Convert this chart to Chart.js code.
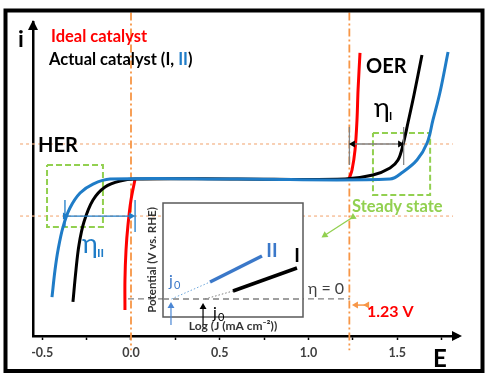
<!DOCTYPE html>
<html>
<head>
<meta charset="utf-8">
<script src="https://cdn.jsdelivr.net/npm/chart.js@4.4.0/dist/chart.umd.min.js"></script>
<style>
  html, body { margin: 0; padding: 0; background: #fff; }
  #wrap { position: relative; width: 498px; height: 389px; }
  #main { position: absolute; left: 0; top: 0; width: 498px; height: 389px; }
  #inset { position: absolute; left: 140px; top: 198px; width: 170px; height: 135px; }
</style>
</head>
<body>
<div id="wrap">
  <canvas id="main" width="498" height="389"></canvas>
  <canvas id="inset" width="170" height="135"></canvas>
</div>
<script>
// E axis (V vs RHE) and current axis (arbitrary, 0 = flat region)
const eTicks = [-0.5, -0.25, 0, 0.25, 0.5, 0.75, 1, 1.25, 1.5, 1.75];
const eRange = [-0.552, 1.842];
const iRange = [-10, 10];

// polarisation curves, pairs of [E, i]
const idealHER = [[-0.034,-8.34],[-0.034,-6.43],[-0.028,-4.52],[-0.017,-2.93],[0,-1.34],[0.023,0]];
const idealOER = [[1.228,0],[1.245,0.57],[1.262,1.85],[1.273,3.76],[1.279,5.67],[1.29,8.03]];
const catI = [[-0.327,-7.83],[-0.31,-5.8],[-0.293,-4.2],[-0.265,-2.74],[-0.214,-1.34],[-0.146,-0.51],
  [-0.062,-0.13],[0.023,0],[0.6,0],[1.206,0],[1.363,0.25],[1.459,0.7],[1.504,1.21],[1.532,2.17],
  [1.561,3.63],[1.594,5.35],[1.639,7.9]];
const catII = [[-0.445,-7.52],[-0.428,-5.8],[-0.411,-4.52],[-0.383,-3.06],[-0.344,-1.85],[-0.287,-0.89],
  [-0.214,-0.32],[-0.118,0],[0.6,0],[1.459,0],[1.532,0.45],[1.611,1.21],[1.668,2.29],[1.701,3.76],
  [1.741,5.54],[1.786,8.09]];

// guide lines
const eqPotentials = [0, 1.23];
const guideCurrents = [2.23, -2.36];
const etaZero = -7.64;
// steady state boxes [E1, E2, i1, i2]
const herBox = [-0.473, -0.158, 0.89, -3.06];
const oerBox = [1.363, 1.685, 2.93, -1.02];
// overpotential markers
const etaI = { from: 1.23, to: 1.536, at: 2.23 };
const etaII = { from: -0.372, to: 0.023, at: -2.36 };

// Tafel inset (log J vs potential, arbitrary 0-10)
const tafelII = [[3.36,3.07],[7.07,5.35]];
const tafelI = [[5,2.28],[9.57,4.3]];
const j0II = 0.6, j0I = 3.0;
const insetEtaZero = 1.58;

const pts = a => a.map(p => ({ x: p[0], y: p[1] }));
const FONT = 'Lato, "Open Sans", Arial, sans-serif';
const BLUE = '#1f7cc7';
const ORANGE = '#f79646';
const GREEN = '#92d050';

function line(data, color, width, extra) {
  return Object.assign({ data: pts(data), borderColor: color, backgroundColor: color,
    borderWidth: width, pointRadius: 0, fill: false, tension: 0, clip: false }, extra || {});
}
function boxPts(b) {
  return [[b[0],b[2]],[b[1],b[2]],[b[1],b[3]],[b[0],b[3]],[b[0],b[2]]];
}
function arrowHead(rot, r) {
  return { pointStyle: 'triangle', pointRadius: r, pointRotation: rot, pointBorderWidth: 0 };
}

const datasets = [
  // guides (back)
  line([[eqPotentials[0], 10.6],[eqPotentials[0], -10.9]], ORANGE, 1.8, { borderDash: [8,3,2,3], order: 20 }),
  line([[eqPotentials[1], 10.6],[eqPotentials[1], -10.9]], ORANGE, 1.8, { borderDash: [8,3,2,3], order: 20 }),
  line([[-0.625, guideCurrents[0]],[1.814, guideCurrents[0]]], '#f4b183', 1.2, { borderDash: [3,3], order: 20 }),
  line([[-0.625, guideCurrents[1]],[1.814, guideCurrents[1]]], '#f4b183', 1.2, { borderDash: [3,3], order: 20 }),
  line([[-0.017, etaZero],[1.234, etaZero]], '#808080', 1.3, { borderDash: [6,4], order: 19 }),
  line(boxPts(herBox), GREEN, 2, { borderDash: [6,3], order: 18 }),
  line(boxPts(oerBox), GREEN, 2, { borderDash: [6,3], order: 18 }),
  // curves
  line(idealHER, '#ff0000', 3, { tension: 0.35, order: 6 }),
  line(idealOER, '#ff0000', 3, { tension: 0.35, order: 6 }),
  line(catI, '#000000', 3, { tension: 0.35, order: 5 }),
  line(catII, BLUE, 3, { tension: 0.35, order: 4 }),
  // overpotential eta I
  line([[etaI.from, 3.31],[etaI.from, 0.89]], '#808080', 1.2, { order: 2 }),
  line([[etaI.to, 3.31],[etaI.to, 0.89]], '#808080', 1.2, { order: 2 }),
  line([[etaI.from + 0.02, etaI.at],[etaI.to - 0.02, etaI.at]], '#808080', 1.3,
    Object.assign({ order: 1, pointBackgroundColor: '#000' }, arrowHead([270, 90], 4))),
  // overpotential eta II
  line([[etaII.from, -1.34],[etaII.from, -3.06]], BLUE, 1.3, { order: 2 }),
  line([[etaII.to, -1.34],[etaII.to, -3.38]], BLUE, 1.3, { order: 2 }),
  line([[etaII.from, etaII.at],[etaII.to - 0.022, etaII.at]], BLUE, 1.3,
    Object.assign({ order: 1, pointRadius: [0, 4] }, arrowHead(90, 4))),
  // steady state pointer
  line([[1.251,-2.42],[1.092,-3.58]], GREEN, 1.3,
    Object.assign({ order: 1, pointRadius: [0, 4] }, arrowHead(-123, 4))),
  // 1.23 V pointer
  line([[1.33,-8.03],[1.267,-8.03]], ORANGE, 1.5,
    Object.assign({ order: 1, pointRadius: [0, 4] }, arrowHead(270, 4)))
];

function txt(ctx, s, x, y, font, color, align) {
  ctx.font = font;
  ctx.fillStyle = color;
  ctx.textAlign = align || 'left';
  ctx.textBaseline = 'middle';
  ctx.fillText(s, x, y);
}

const decorations = {
  id: 'decorations',
  afterDraw(chart) {
    const ctx = chart.ctx;
    const a = chart.chartArea;
    ctx.save();
    // outer frame
    ctx.strokeStyle = '#000';
    ctx.lineWidth = 4;
    ctx.strokeRect(5.5, 10.5, 477, 360.5);
    // axis arrow heads
    ctx.fillStyle = '#000';
    ctx.beginPath();
    ctx.moveTo(a.left, a.top - 2); ctx.lineTo(a.left - 5, a.top + 8); ctx.lineTo(a.left + 5, a.top + 8);
    ctx.closePath(); ctx.fill();
    ctx.beginPath();
    ctx.moveTo(a.right + 4, a.bottom); ctx.lineTo(a.right - 6, a.bottom - 5); ctx.lineTo(a.right - 6, a.bottom + 5);
    ctx.closePath(); ctx.fill();

    txt(ctx, 'i', 21, 40, 'bold 23px ' + FONT, '#000', 'center');
    txt(ctx, 'E', 440, 359, 'bold 24px ' + FONT, '#000', 'center');
    txt(ctx, 'Ideal catalyst', 51, 37, 'bold 16.5px ' + FONT, '#ff0000');
    ctx.font = 'bold 16.5px ' + FONT;
    const w1 = ctx.measureText('Actual catalyst (I, ').width;
    const w2 = ctx.measureText('II').width;
    txt(ctx, 'Actual catalyst (I, ', 49, 60, 'bold 16.5px ' + FONT, '#000');
    txt(ctx, 'II', 49 + w1, 60, 'bold 16.5px ' + FONT, BLUE);
    txt(ctx, ')', 49 + w1 + w2, 60, 'bold 16.5px ' + FONT, '#000');
    txt(ctx, 'HER', 38, 146, 'bold 20px ' + FONT, '#000');
    txt(ctx, 'OER', 366, 67, 'bold 20px ' + FONT, '#000');
    txt(ctx, 'η', 374, 108, '27px ' + FONT, '#000');
    txt(ctx, 'I', 389, 116, 'bold 11px ' + FONT, '#000');
    txt(ctx, 'η', 82, 244, '27px ' + FONT, BLUE);
    txt(ctx, 'II', 97, 253, 'bold 12px ' + FONT, BLUE);
    txt(ctx, 'Steady state', 352, 207, 'bold 16.5px ' + FONT, GREEN);
    txt(ctx, 'η = 0', 308, 289, '16px ' + FONT, '#404040');
    txt(ctx, '1.23 V', 367, 312, 'bold 16px ' + FONT, '#ff0000');
    ctx.restore();
  }
};

new Chart(document.getElementById('main'), {
  type: 'line',
  data: { datasets: datasets },
  options: {
    responsive: false,
    animation: false,
    events: [],
    layout: { padding: { left: 33, top: 22, right: 40, bottom: 0 } },
    plugins: { legend: { display: false }, tooltip: { enabled: false } },
    scales: {
      x: {
        type: 'linear', min: eRange[0], max: eRange[1],
        afterBuildTicks: s => { s.ticks = eTicks.map(v => ({ value: v })); },
        afterFit: s => { s.height = 53; },
        grid: { drawOnChartArea: false, drawTicks: true, tickLength: 4, tickWidth: 1.5, tickColor: '#000' },
        border: { color: '#000', width: 2.5 },
        ticks: {
          autoSkip: false, maxRotation: 0, padding: 5, color: '#404040',
          font: { family: FONT, size: 12.5, weight: 'bold' },
          callback: v => Math.abs(v * 2 - Math.round(v * 2)) < 1e-6 ? v.toFixed(1) : ''
        }
      },
      y: {
        type: 'linear', min: iRange[0], max: iRange[1],
        afterFit: s => { s.width = 0; },
        grid: { drawOnChartArea: false, drawTicks: false },
        border: { color: '#000', width: 2.5 },
        ticks: { display: false }
      }
    }
  },
  plugins: [decorations]
});

// ---- inset: Tafel plot ----
const insetBox = {
  id: 'insetBox',
  beforeDatasetsDraw(chart) {
    const ctx = chart.ctx, a = chart.chartArea;
    ctx.save();
    ctx.fillStyle = '#fff';
    ctx.fillRect(a.left, a.top, a.right - a.left, a.bottom - a.top);
    ctx.strokeStyle = '#595959';
    ctx.lineWidth = 1.5;
    ctx.strokeRect(a.left, a.top, a.right - a.left, a.bottom - a.top);
    ctx.restore();
  },
  afterDraw(chart) {
    const ctx = chart.ctx;
    ctx.save();
    txt(ctx, 'II', 132, 53, 'bold 19px ' + FONT, '#3b78c9', 'center');
    txt(ctx, 'I', 157, 58, 'bold 19px ' + FONT, '#000', 'center');
    txt(ctx, 'j', 29, 83, '16px ' + FONT, '#3b78c9');
    txt(ctx, '0', 34, 87, '11px ' + FONT, '#3b78c9');
    txt(ctx, 'j', 73, 115, '16px ' + FONT, '#000');
    txt(ctx, '0', 78, 119, '11px ' + FONT, '#000');
    ctx.restore();
  }
};

new Chart(document.getElementById('inset'), {
  type: 'line',
  data: {
    datasets: [
      line([[0, insetEtaZero],[10, insetEtaZero]], '#808080', 1.3, { borderDash: [6,4], order: 5 }),
      line([[j0II, insetEtaZero], tafelII[0]], '#6fa8dc', 1, { borderDash: [1.5,2], order: 4 }),
      line([[j0I, insetEtaZero], tafelI[0]], '#808080', 1, { borderDash: [1.5,2], order: 4 }),
      line(tafelII, '#3b78c9', 3.5, { order: 3 }),
      line(tafelI, '#000', 3.5, { order: 3 }),
      line([[j0II - 0.03, -0.7],[j0II - 0.03, 0.97]], '#4a86d4', 1.2,
        Object.assign({ order: 1, pointRadius: [0, 4] }, arrowHead(0, 4))),
      line([[2.86, -0.7],[2.86, 0.88]], '#000', 1.2,
        Object.assign({ order: 1, pointRadius: [0, 4] }, arrowHead(0, 4)))
    ]
  },
  options: {
    responsive: false,
    animation: false,
    events: [],
    layout: { padding: { left: 5, top: 5, right: 7, bottom: 0 } },
    plugins: { legend: { display: false }, tooltip: { enabled: false } },
    scales: {
      x: {
        type: 'linear', min: 0, max: 10,
        afterFit: s => { s.height = 16; },
        ticks: { display: false }, grid: { display: false }, border: { display: false },
        title: { display: true, text: 'Log (J (mA cm⁻²))', color: '#333', padding: 0,
          font: { family: FONT, size: 12, weight: 'bold' } }
      },
      y: {
        type: 'linear', min: 0, max: 10,
        afterFit: s => { s.width = 18; },
        ticks: { display: false }, grid: { display: false }, border: { display: false },
        title: { display: true, text: 'Potential (V vs. RHE)', color: '#333', padding: 0,
          font: { family: FONT, size: 11.5, weight: 'bold' } }
      }
    }
  },
  plugins: [insetBox]
});
</script>
</body>
</html>
